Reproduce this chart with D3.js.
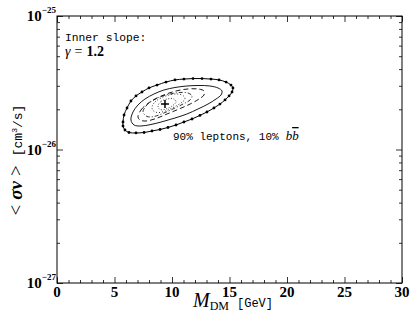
<!DOCTYPE html>
<html>
<head>
<meta charset="utf-8">
<script src="https://cdn.jsdelivr.net/npm/d3@7"></script>
<style>
  body { margin: 0; background: #fff; }
</style>
</head>
<body>
<div id="chart"></div>
<script>
var margin = {top: 16, right: 13, bottom: 29, left: 57},
    width = 415,
    height = 312;

var MONO = "Liberation Mono, DejaVu Sans Mono, monospace";
var SERIF = "Liberation Serif, DejaVu Serif, serif";

// Tick values
var massTicks = [0, 5, 10, 15, 20, 25, 30];
var massMinor = d3.range(0, 31, 1);
var sigmaTicks = [1e-27, 1e-26, 1e-25];
var sigmaExp = ["\u221227", "\u221226", "\u221225"];

// Contours: [mass GeV, sigma in units of 1e-26 cm^3/s]
var contourOuter = [[5.74,1.607],[5.83,1.813],[6.09,2.046],[6.43,2.308],[6.87,2.518],[7.39,2.697],
  [8.00,2.89],[8.70,3.04],[9.48,3.20],[10.26,3.32],[11.04,3.37],[11.83,3.40],[12.61,3.40],
  [13.39,3.37],[14.09,3.32],[14.70,3.20],[15.13,3.04],[15.30,2.89],[15.22,2.697],[14.96,2.518],
  [14.61,2.35],[14.17,2.19],[13.65,2.046],[13.04,1.91],[12.43,1.80],[11.74,1.692],[11.04,1.607],
  [10.35,1.526],[9.65,1.462],[8.96,1.412],[8.26,1.376],[7.57,1.341],[6.87,1.330],[6.26,1.341],
  [5.91,1.40],[5.74,1.50]];
var contourSolid = [[6.43,1.663],[6.61,1.91],[7.04,2.154],[7.65,2.389],[8.43,2.604],[9.30,2.79],
  [10.26,2.913],[11.30,2.99],[12.35,3.016],[13.30,2.99],[14.0,2.89],[14.35,2.744],[14.26,2.559],
  [13.83,2.389],[13.13,2.19],[12.26,2.011],[11.30,1.845],[10.26,1.722],[9.22,1.621],[8.17,1.539],
  [7.30,1.50],[6.70,1.526]];
var contourDashed = [[7.04,1.752],[7.30,1.976],[7.83,2.19],[8.52,2.389],[9.39,2.582],[10.35,2.744],
  [11.39,2.84],[12.26,2.84],[12.78,2.744],[12.78,2.559],[12.35,2.389],[11.57,2.19],[10.61,2.011],
  [9.57,1.845],[8.61,1.707],[7.74,1.635],[7.22,1.663]];
var contourDashDot = [[7.48,1.91],[7.74,2.117],[8.26,2.308],[8.96,2.474],[9.83,2.604],[10.70,2.673],
  [11.39,2.650],[11.74,2.518],[11.57,2.35],[10.96,2.19],[10.17,2.028],[9.30,1.877],[8.43,1.767],
  [7.83,1.767]];
var contourDotted = [[8.26,2.081],[8.52,2.269],[9.04,2.431],[9.74,2.559],[10.43,2.604],[10.96,2.537],
  [11.13,2.389],[10.78,2.230],[10.09,2.063],[9.30,1.926],[8.70,1.893],[8.35,1.959]];
var contourInner = [[8.78,2.117],[9.04,2.289],[9.57,2.389],[10.17,2.389],[10.35,2.269],[10.0,2.117],
  [9.48,2.011],[8.96,1.993]];
var bestFit = [9.39, 2.19];

var svg = d3.select("#chart").append("svg")
  .attr("width", width)
  .attr("height", height);

var x = d3.scaleLinear().domain([0, 30]).range([margin.left, width - margin.right]);
var y = d3.scaleLog().domain([1e-27, 1e-25]).range([height - margin.bottom, margin.top]);

var x0 = margin.left, x1 = width - margin.right, y0 = height - margin.bottom, y1 = margin.top;

// minor log ticks
var sigmaMinor = [];
[1e-27, 1e-26].forEach(function(d) {
  for (var k = 2; k <= 9; k++) sigmaMinor.push(d * k);
});

// ticks on all four sides, pointing inward
function ticks(axis, vals, size, tx) {
  svg.append("g")
    .attr("transform", tx)
    .call(axis.tickValues(vals).tickSize(size).tickFormat(""))
    .call(function(g) { g.select(".domain").remove(); g.selectAll("line").attr("stroke", "#000").attr("stroke-width", 0.8); });
}
ticks(d3.axisBottom(x), massTicks, -6, "translate(0," + y0 + ")");
ticks(d3.axisBottom(x), massMinor.filter(function(d) { return d % 5; }), -3, "translate(0," + y0 + ")");
ticks(d3.axisTop(x), massTicks, -6, "translate(0," + y1 + ")");
ticks(d3.axisTop(x), massMinor.filter(function(d) { return d % 5; }), -3, "translate(0," + y1 + ")");
ticks(d3.axisLeft(y), sigmaTicks, -6, "translate(" + x0 + ",0)");
ticks(d3.axisLeft(y), sigmaMinor, -3, "translate(" + x0 + ",0)");
ticks(d3.axisRight(y), sigmaTicks, -6, "translate(" + x1 + ",0)");
ticks(d3.axisRight(y), sigmaMinor, -3, "translate(" + x1 + ",0)");

// frame
svg.append("rect")
  .attr("x", x0).attr("y", y1)
  .attr("width", x1 - x0).attr("height", y0 - y1)
  .attr("fill", "none").attr("stroke", "#000").attr("stroke-width", 1);

// x tick labels
svg.selectAll(".xlab").data(massTicks).enter()
  .append("text")
  .attr("font-family", SERIF)
  .attr("x", function(d) { return x(d); })
  .attr("y", y0 + 14)
  .attr("text-anchor", "middle")
  .attr("font-size", 15)
  .attr("font-weight", "bold")
  .text(function(d) { return d; });

// y tick labels
var ylab = svg.selectAll(".ylab").data(sigmaTicks).enter()
  .append("text")
  .attr("font-family", SERIF)
  .attr("x", x0 - 1)
  .attr("y", function(d) { return y(d) + 5; })
  .attr("text-anchor", "end")
  .attr("font-size", 15)
  .attr("font-weight", "bold")
  .text("10");
ylab.append("tspan")
  .attr("dy", -8)
  .attr("font-size", 9)
  .text(function(d, i) { return sigmaExp[i]; });

// contours
var line = d3.line()
  .x(function(d) { return x(d[0]); })
  .y(function(d) { return y(d[1] * 1e-26); })
  .curve(d3.curveCatmullRomClosed);

var contours = [
  {pts: contourOuter, dash: null, w: 1},
  {pts: contourSolid, dash: null, w: 0.9},
  {pts: contourDashed, dash: "5,3", w: 0.9},
  {pts: contourDashDot, dash: "4,2,1,2", w: 0.8},
  {pts: contourDotted, dash: "1,2", w: 0.8},
  {pts: contourInner, dash: "1,1.6", w: 0.7}
];
svg.selectAll(".contour").data(contours).enter()
  .append("path")
  .attr("class", "contour")
  .attr("d", function(d) { return line(d.pts); })
  .attr("fill", "none")
  .attr("stroke", "#000")
  .attr("stroke-width", function(d) { return d.w; })
  .attr("stroke-dasharray", function(d) { return d.dash; });

svg.selectAll(".dot").data(contourOuter).enter()
  .append("circle")
  .attr("cx", function(d) { return x(d[0]); })
  .attr("cy", function(d) { return y(d[1] * 1e-26); })
  .attr("r", 1.4)
  .attr("fill", "#000");

// best fit cross
var bx = x(bestFit[0]), by = y(bestFit[1] * 1e-26);
svg.append("path")
  .attr("d", "M" + (bx - 4) + "," + by + "H" + (bx + 4) + "M" + bx + "," + (by - 4) + "V" + (by + 4))
  .attr("stroke", "#000").attr("stroke-width", 1.5);

// annotations
svg.append("text").attr("font-family", MONO)
  .attr("x", 65).attr("y", 41).attr("font-size", 11.3)
  .text("Inner slope:");
var g = svg.append("text").attr("font-family", SERIF)
  .attr("x", 65).attr("y", 56).attr("font-size", 14);
g.append("tspan").attr("font-style", "italic").text("\u03b3");
g.append("tspan").attr("dx", 4).text("=");
g.append("tspan").attr("dx", 4).attr("font-weight", "bold").text("1.2");

var lbl = svg.append("text").attr("font-family", MONO)
  .attr("x", 173).attr("y", 140).attr("font-size", 11)
  .text("90% leptons, 10%");
lbl.append("tspan").attr("dx", 7).attr("font-family", SERIF).attr("font-style", "italic").attr("font-size", 13).text("b");
lbl.append("tspan").attr("font-family", SERIF).attr("font-style", "italic").attr("font-size", 13)
  .attr("text-decoration", "overline").text("b");

// axis titles
var xt = svg.append("text")
  .attr("x", 193).attr("y", 307);
xt.append("tspan").attr("font-family", SERIF).attr("font-style", "italic").attr("font-size", 20).text("M");
xt.append("tspan").attr("font-family", SERIF).attr("font-size", 12).attr("dy", 3).text("DM");
xt.append("tspan").attr("font-family", MONO).attr("font-size", 12).attr("dx", 8).attr("dy", -3).text("[GeV]");

var yt = svg.append("text")
  .attr("transform", "translate(22,160) rotate(-90)")
  .attr("text-anchor", "middle");
yt.append("tspan").attr("font-family", SERIF).attr("font-size", 19).text("<");
yt.append("tspan").attr("dx", 5).attr("font-family", SERIF).attr("font-size", 19).attr("font-style", "italic").attr("font-weight", "bold").text("\u03c3v");
yt.append("tspan").attr("dx", 5).attr("font-family", SERIF).attr("font-size", 19).text(">");
yt.append("tspan").attr("dx", 9).attr("font-family", MONO).attr("font-size", 13).text("[cm");
yt.append("tspan").attr("font-family", MONO).attr("font-size", 8).attr("dy", -5).text("3");
yt.append("tspan").attr("font-family", MONO).attr("font-size", 13).attr("dy", 5).text("/s]");
</script>
</body>
</html>
